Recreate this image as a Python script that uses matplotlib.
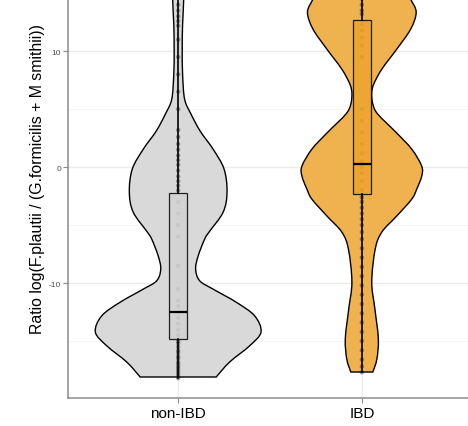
import matplotlib

matplotlib.use("Agg")
import matplotlib.pyplot as plt
import numpy as np
from matplotlib.path import Path
from matplotlib.patches import PathPatch

groups = ["non-IBD", "IBD"]

# violin outlines: y value and half width (x units)
nonibd_y = [16.0, 14.48, 12.33, 10.17, 8.02, 5.86, 4.57, 3.10, 1.55, -0.17, -2.16,
            -3.88, -5.60, -6.21, -7.65, -8.79, -9.80, -10.52, -11.64, -12.82,
            -14.22, -15.41, -16.81, -18.10]
nonibd_half = [0.026, 0.030, 0.024, 0.022, 0.024, 0.035, 0.070, 0.120, 0.190, 0.250,
               0.266, 0.245, 0.168, 0.144, 0.109, 0.095, 0.117, 0.190, 0.315, 0.416,
               0.451, 0.389, 0.280, 0.207]

ibd_y = [16.0, 15.2, 14.48, 13.36, 11.9, 10.17, 8.45, 7.16, 6.38, 5.43, 4.57, 3.02,
         1.55, 0.09, -0.78, -1.9, -2.76, -4.22, -5.6, -7.07, -9.9, -12.2, -14.8,
         -16.55, -17.67]
ibd_half = [0.190, 0.245, 0.266, 0.296, 0.266, 0.190, 0.109, 0.065, 0.054, 0.060,
            0.087, 0.185, 0.272, 0.326, 0.326, 0.299, 0.272, 0.190, 0.109, 0.073,
            0.054, 0.071, 0.090, 0.082, 0.060]

# box statistics: lower whisker, q1, median, q3, upper whisker
nonibd_box = [-18.2, -14.83, -12.47, -2.24, 16.0]
ibd_box = [-17.67, -2.33, 0.26, 12.7, 16.0]

# individual samples (approximate)
nonibd_pts = [15.8, 15.2, 14.6, 14.0, 13.5, 13.0, 12.6, 12.2, 11.0, 9.5, 8.0, 6.5,
              5.0, 3.2, 2.6, 2.0, 1.5, 1.0, 0.6, 0.2, -0.3, -0.8, -1.2, -1.6, -2.0,
              -3.0, -4.0, -5.0, -6.0, -8.5, -10.5, -11.5, -12.0, -12.5, -13.0,
              -13.5, -14.0, -14.5, -15.0, -15.2, -15.5, -15.8, -16.0, -16.3, -16.5,
              -16.8, -17.0, -17.2, -17.4, -17.6, -17.8, -18.0, -18.2]
ibd_pts = [16.0, 15.5, 15.0, 14.5, 14.0, 13.5, 13.2, 12.3, 11.8, 11.2, 10.5, 9.5,
           5.0, 4.0, 3.0, 2.0, 1.2, 0.5, 0.0, -0.5, -1.2, -2.0, -2.6, -3.0, -3.5,
           -4.0, -4.5, -5.0, -5.6, -6.2, -7.0, -7.8, -8.6, -9.4, -10.2, -11.0,
           -11.8, -12.6, -13.4, -14.2, -15.0, -15.8, -16.6, -17.2, -17.7]

violin_colors = ["#D9D9D9", "#F0B24E"]
box_colors = ["#D3D3D3", "#EEA42E"]


def smooth_side(pts):
    """Catmull-Rom chain through pts as cubic bezier segments (no start vertex)."""
    pts = np.asarray(pts, float)
    padded = np.vstack([pts[0], pts, pts[-1]])
    verts = []
    for k in range(1, len(padded) - 2):
        p0, p1, p2, p3 = padded[k - 1], padded[k], padded[k + 1], padded[k + 2]
        verts += [p1 + (p2 - p0) / 6, p2 - (p3 - p1) / 6, p2]
    return verts


def violin_path(pos, yy, hh):
    yy = np.asarray(yy, float)
    hh = np.asarray(hh, float)
    left = np.column_stack([pos - hh, yy])
    right = np.column_stack([pos + hh, yy])[::-1]
    verts = [left[0]]
    codes = [Path.MOVETO]
    seg = smooth_side(left)
    verts += seg
    codes += [Path.CURVE4] * len(seg)
    verts.append(right[0])
    codes.append(Path.LINETO)
    seg = smooth_side(right)
    verts += seg
    codes += [Path.CURVE4] * len(seg)
    verts.append(left[0])
    codes.append(Path.CLOSEPOLY)
    return Path(verts, codes)


plt.rcParams["font.family"] = ["Liberation Sans", "DejaVu Sans"]

fig = plt.figure(figsize=(4.68, 4.27), dpi=100)
ax = fig.add_axes([68 / 468, 28 / 427, 404 / 468, 439.6 / 427])

profiles = [(nonibd_y, nonibd_half), (ibd_y, ibd_half)]
point_sets = [nonibd_pts, ibd_pts]
box_sets = [nonibd_box, ibd_box]

for i, (yy, hh) in enumerate(profiles):
    patch = PathPatch(violin_path(i + 1, yy, hh), facecolor=violin_colors[i],
                      edgecolor="black", lw=1.0, zorder=2)
    ax.add_patch(patch)

for i, pts in enumerate(point_sets):
    ax.scatter(np.full(len(pts), i + 1.0), pts, s=10, color="black", alpha=0.35,
               edgecolors="none", zorder=4)

stats = []
for b in box_sets:
    stats.append({"whislo": b[0], "q1": b[1], "med": b[2], "q3": b[3],
                  "whishi": b[4], "fliers": []})
bp = ax.bxp(stats, positions=[1, 2], widths=0.1, patch_artist=True,
            showcaps=False, showfliers=False, zorder=5,
            boxprops=dict(edgecolor="black", linewidth=0.9),
            whiskerprops=dict(color="black", linewidth=1.2),
            medianprops=dict(color="black", linewidth=1.6))
for patch, c in zip(bp["boxes"], box_colors):
    patch.set_facecolor(c)
    patch.set_alpha(0.85)
    patch.set_edgecolor("black")

ax.set_xlim(0.4, 2.6)
ax.set_ylim(-19.91, 18.0)
ax.set_xticks([1, 2])
ax.set_xticklabels(groups, fontsize=11)
ax.set_yticks([-10, 0, 10])
ax.set_yticklabels(["-10", "0", "10"], fontsize=6, color="#4D4D4D")
ax.set_yticks([-15, -5, 5, 15], minor=True)
ax.tick_params(axis="y", which="minor", length=0)
ax.tick_params(axis="both", which="major", length=3.5, width=0.8, color="#8C8C8C")
ax.tick_params(axis="x", pad=2)
ax.tick_params(axis="y", pad=1.5)
ax.grid(True, which="major", color="#EBEBEB", lw=1.0, zorder=0)
ax.grid(True, which="minor", axis="y", color="#F4F4F4", lw=0.6, zorder=0)
ax.set_axisbelow(True)
for side in ["top", "right"]:
    ax.spines[side].set_visible(False)
for side in ["left", "bottom"]:
    ax.spines[side].set_color("#8C8C8C")
    ax.spines[side].set_linewidth(1.1)
ax.set_ylabel("Ratio log(F.plautii / (G.formicilis + M smithii))", fontsize=11.4,
              labelpad=3)

fig.savefig("out.png", dpi=100)
